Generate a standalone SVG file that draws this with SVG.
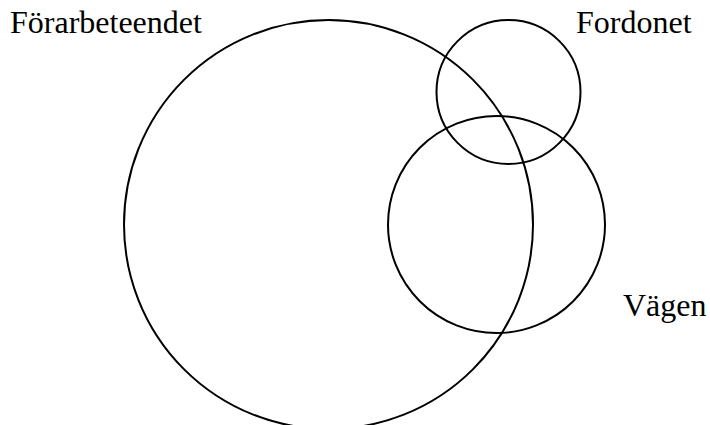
<svg xmlns="http://www.w3.org/2000/svg" width="710" height="425" viewBox="0 0 710 425">
<style>
.c{fill:none;stroke:#000;stroke-width:2}
.t{font-family:"Liberation Serif","Times New Roman",serif;font-size:32px;fill:#000}
</style>
<rect width="710" height="425" fill="#fff"/>
<g id="forarbeteendet">
<circle class="c" cx="328.5" cy="224.5" r="204.5"/>
<text class="t" x="10" y="33">Förarbeteendet</text>
</g>
<g id="fordonet">
<circle class="c" cx="508.5" cy="92" r="72"/>
<text class="t" x="576" y="33">Fordonet</text>
</g>
<g id="vagen">
<circle class="c" cx="496.5" cy="224.5" r="108.5"/>
<text class="t" x="623" y="315.5">Vägen</text>
</g>
<g id="connectors"/>
</svg>
